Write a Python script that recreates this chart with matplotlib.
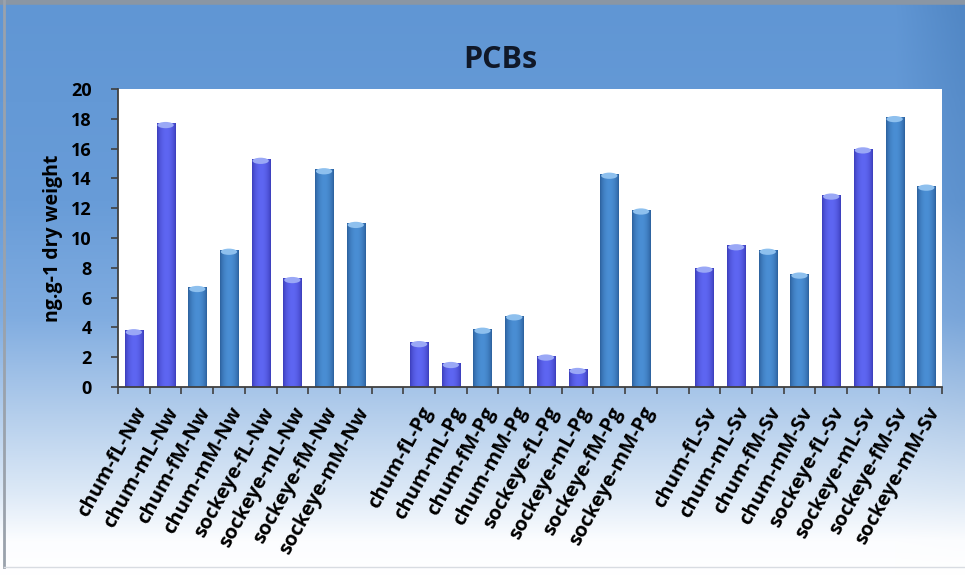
import numpy as np
import matplotlib

matplotlib.use("Agg")
import matplotlib.pyplot as plt
from matplotlib.colors import to_rgb
from matplotlib.lines import Line2D
from matplotlib.patches import Ellipse

plt.rcParams["font.family"] = ["Open Sans", "DejaVu Sans"]
plt.rcParams["font.weight"] = "bold"

fish = ["chum-fL", "chum-mL", "chum-fM", "chum-mM",
        "sockeye-fL", "sockeye-mL", "sockeye-fM", "sockeye-mM"]
sites = ["Nw", "Pg", "Sv"]

nw_vals = [3.8, 17.7, 6.7, 9.2, 15.3, 7.3, 14.6, 11.0]
pg_vals = [3.0, 1.6, 3.9, 4.8, 2.1, 1.2, 14.3, 11.9]
sv_vals = [8.0, 9.5, 9.2, 7.6, 12.9, 16.0, 18.1, 13.5]

# fL/mL bars are violet-blue, fM/mM bars are steel blue
PURPLE = ("#3a3cb8", "#5e66f2", "#9aa8f6")
STEEL = ("#2a5e9a", "#4a8ed4", "#8ec0ee")
bar_style = [PURPLE, PURPLE, STEEL, STEEL, PURPLE, PURPLE, STEEL, STEEL]

labels, values, styles = [], [], []
for site, vals in zip(sites, [nw_vals, pg_vals, sv_vals]):
    for f, v, s in zip(fish, vals, bar_style):
        labels.append(f"{f}-{site}")
        values.append(v)
        styles.append(s)
    labels.append("")
    values.append(np.nan)
    styles.append(None)
labels, values, styles = labels[:-1], values[:-1], styles[:-1]
x = np.arange(len(labels))

fig = plt.figure(figsize=(9.65, 5.76), dpi=100)

# background: blue at the top fading to white
bg_ax = fig.add_axes([0, 0, 1, 1], zorder=-5)
stops_y = [0.0, 0.35, 0.55, 0.72, 0.86, 0.94, 1.0]
stops_c = [(96, 150, 212), (104, 156, 216), (128, 172, 224),
           (180, 206, 236), (222, 234, 247), (252, 253, 255), (255, 255, 255)]
yy = np.linspace(0, 1, 300)
col = np.stack([np.interp(yy, stops_y, [c[i] for c in stops_c]) for i in range(3)], axis=-1) / 255
xx = np.linspace(0, 1, 200)
dark = np.clip((xx - 0.93) / 0.07, 0, 1)[None, :, None] * 0.06 * (1 - yy[:, None, None])
img = np.clip(col[:, None, :] - dark, 0, 1)
bg_ax.imshow(img, extent=[0, 1, 0, 1], aspect="auto", origin="upper")
bg_ax.set_xlim(0, 1)
bg_ax.set_ylim(0, 1)
bg_ax.axis("off")

fig.add_artist(Line2D([0, 1], [0.996, 0.996], transform=fig.transFigure, color="#8a96a4", lw=4))
fig.add_artist(Line2D([0.004, 0.004], [0.015, 1], transform=fig.transFigure, color="#9aa2ac", lw=2))
fig.add_artist(Line2D([0.004, 1], [0.015, 0.015], transform=fig.transFigure, color="#d8dce2", lw=1))

ax = fig.add_axes([0.1223, 0.328, 0.854, 0.5175])
ax.set_facecolor("white")

bw = 0.57
bars = ax.bar(x, np.nan_to_num(values), width=bw, color="none", edgecolor="none", zorder=2)
t = np.linspace(0, 1, 64)
profile = np.sin(np.pi * t) ** 0.7
for rect, v, s in zip(bars, values, styles):
    if s is None:
        continue
    edge, mid, cap = (np.array(to_rgb(c)) for c in s)
    grad = edge[None, :] * (1 - profile[:, None]) + mid[None, :] * profile[:, None]
    x0 = rect.get_x()
    im = ax.imshow(grad[None, :, :], extent=[x0, x0 + bw, 0, v], aspect="auto", zorder=2, interpolation="bilinear")
    im.set_clip_path(rect)
    ax.add_patch(Ellipse((x0 + bw / 2, v - 0.12), bw * 0.9, 0.42, color=cap, zorder=3, lw=0))

ax.set_xlim(-0.5, len(labels) - 0.5)
ax.set_ylim(0, 20)
ax.set_yticks(np.arange(0, 21, 2))
ax.set_xticks(np.arange(-0.5, len(labels), 1.0), minor=True)
ax.set_xticks(x)
ax.set_xticklabels(labels, rotation=61, ha="right", rotation_mode="anchor", fontsize=14.5, fontweight="bold")
ax.tick_params(axis="x", which="major", length=0, pad=12)
ax.tick_params(axis="x", which="minor", length=5, width=1.2, color="#404040", direction="out")
ax.tick_params(axis="y", length=5, width=1.2, color="#404040", direction="out", pad=14, labelsize=13)
for lab in ax.get_yticklabels():
    lab.set_fontweight("bold")
for side in ["top", "right"]:
    ax.spines[side].set_visible(False)
for side in ["left", "bottom"]:
    ax.spines[side].set_color("#404040")
    ax.spines[side].set_linewidth(1.3)

ax.set_ylabel("ng.g-1 dry weight", fontsize=14, fontweight="bold", labelpad=6)
fig.text(0.518, 0.895, "PCBs", ha="center", va="center", fontsize=22, fontweight="bold", color="#101828")

fig.savefig("out.png", dpi=100)
